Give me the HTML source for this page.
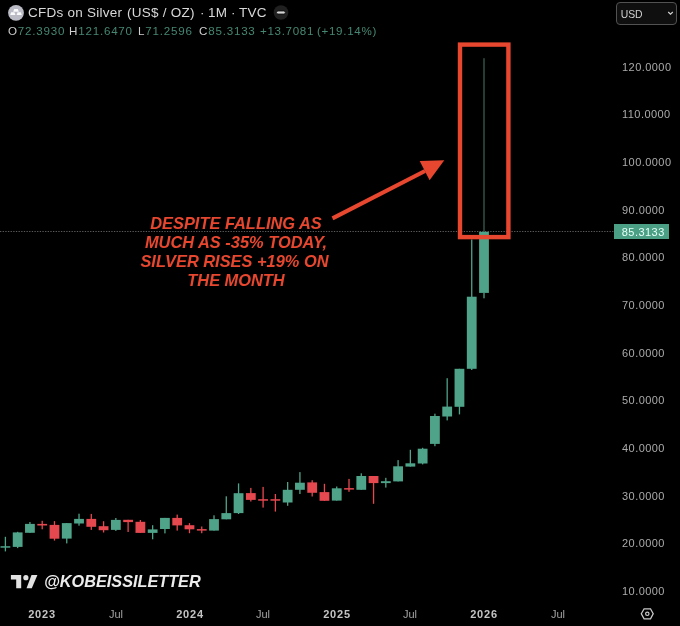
<!DOCTYPE html>
<html><head><meta charset="utf-8">
<style>
html,body{margin:0;padding:0;background:#000;}
.abs,.yl,.xl{will-change:transform;}
body{width:680px;height:626px;position:relative;overflow:hidden;font-family:"Liberation Sans",sans-serif;}
.abs{position:absolute;white-space:nowrap;}
.title{top:4.6px;font-size:13.5px;line-height:16px;color:#d8d8d8;letter-spacing:0.25px;}
.ohlc{top:24px;font-size:11.6px;line-height:14px;color:#468773;letter-spacing:0.79px;}
.ohlc b{font-weight:400;color:#cfcfcf;}
.yl{position:absolute;left:621.6px;font-size:11px;line-height:13px;color:#ababab;letter-spacing:0.45px;}
.xl{position:absolute;top:607px;font-size:11px;line-height:14px;color:#a2a2a2;transform:translateX(-50%);}
.xl.y{font-weight:700;color:#c4c4c4;letter-spacing:0.8px;}
.usd{left:616px;top:2px;width:61px;height:22.5px;border:1px solid #525252;border-radius:4px;background:#0f0f0f;box-sizing:border-box;}
.usd span{position:absolute;left:3.7px;top:5.7px;font-size:10.4px;line-height:12px;color:#d0d0d0;}
.ann{left:136px;top:214px;width:200px;text-align:center;font-size:16.4px;line-height:19.1px;font-weight:700;font-style:italic;color:#e8472f;}
.wm{left:44px;top:572.3px;font-size:16.25px;line-height:18px;font-weight:700;font-style:italic;color:#ececec;}
.pl{left:614px;top:224px;width:55px;height:15px;background:#4a9f85;}
.pl span{position:absolute;left:7.8px;top:2px;font-size:11px;line-height:13px;color:#e6fff6;letter-spacing:0.45px;}
</style></head><body>
<svg class="abs" style="left:0;top:0" width="680" height="626" viewBox="0 0 680 626">
<line x1="0" y1="231.5" x2="614" y2="231.5" stroke="#5c5c5c" stroke-width="1" stroke-dasharray="1.3 1.35"/>
<rect x="4.74" y="536.8" width="1.3" height="14.60" fill="#4ea389"/>
<rect x="0.49" y="546.2" width="9.8" height="1.50" fill="#4ea389"/>
<rect x="17.01" y="531.8" width="1.3" height="16.30" fill="#4ea389"/>
<rect x="12.76" y="532.4" width="9.8" height="14.50" fill="#4ea389"/>
<rect x="29.28" y="522" width="1.3" height="10.80" fill="#4ea389"/>
<rect x="25.03" y="523.9" width="9.8" height="8.90" fill="#4ea389"/>
<rect x="41.56" y="520.8" width="1.3" height="8.50" fill="#e5484f"/>
<rect x="37.31" y="523.9" width="9.8" height="1.60" fill="#e5484f"/>
<rect x="53.83" y="521.1" width="1.3" height="19.50" fill="#e5484f"/>
<rect x="49.58" y="524.9" width="9.8" height="13.80" fill="#e5484f"/>
<rect x="66.10" y="523.1" width="1.3" height="20.30" fill="#4ea389"/>
<rect x="61.85" y="523.1" width="9.8" height="15.50" fill="#4ea389"/>
<rect x="78.37" y="513.7" width="1.3" height="12.00" fill="#4ea389"/>
<rect x="74.12" y="518.9" width="9.8" height="4.60" fill="#4ea389"/>
<rect x="90.64" y="513.9" width="1.3" height="16.00" fill="#e5484f"/>
<rect x="86.39" y="518.9" width="9.8" height="7.90" fill="#e5484f"/>
<rect x="102.92" y="521.2" width="1.3" height="11.30" fill="#e5484f"/>
<rect x="98.67" y="526.2" width="9.8" height="4.00" fill="#e5484f"/>
<rect x="115.19" y="518" width="1.3" height="12.90" fill="#4ea389"/>
<rect x="110.94" y="519.9" width="9.8" height="10.00" fill="#4ea389"/>
<rect x="127.46" y="519.8" width="1.3" height="12.20" fill="#e5484f"/>
<rect x="123.21" y="519.8" width="9.8" height="2.30" fill="#e5484f"/>
<rect x="139.73" y="520" width="1.3" height="12.90" fill="#e5484f"/>
<rect x="135.48" y="521.8" width="9.8" height="11.10" fill="#e5484f"/>
<rect x="152.00" y="525.2" width="1.3" height="14.10" fill="#4ea389"/>
<rect x="147.75" y="529.4" width="9.8" height="3.50" fill="#4ea389"/>
<rect x="164.28" y="517.9" width="1.3" height="15.50" fill="#4ea389"/>
<rect x="160.03" y="517.9" width="9.8" height="11.10" fill="#4ea389"/>
<rect x="176.55" y="514.6" width="1.3" height="16.00" fill="#e5484f"/>
<rect x="172.30" y="517.9" width="9.8" height="7.50" fill="#e5484f"/>
<rect x="188.82" y="523.1" width="1.3" height="10.10" fill="#e5484f"/>
<rect x="184.57" y="525.2" width="9.8" height="4.10" fill="#e5484f"/>
<rect x="201.09" y="526.5" width="1.3" height="6.70" fill="#e5484f"/>
<rect x="196.84" y="529.1" width="9.8" height="1.50" fill="#e5484f"/>
<rect x="213.36" y="515.3" width="1.3" height="15.30" fill="#4ea389"/>
<rect x="209.11" y="519.1" width="9.8" height="11.50" fill="#4ea389"/>
<rect x="225.64" y="496.3" width="1.3" height="23.00" fill="#4ea389"/>
<rect x="221.39" y="513.1" width="9.8" height="6.20" fill="#4ea389"/>
<rect x="237.91" y="483.4" width="1.3" height="30.60" fill="#4ea389"/>
<rect x="233.66" y="493.2" width="9.8" height="19.90" fill="#4ea389"/>
<rect x="250.18" y="487.9" width="1.3" height="13.60" fill="#e5484f"/>
<rect x="245.93" y="493.1" width="9.8" height="6.80" fill="#e5484f"/>
<rect x="262.45" y="486.9" width="1.3" height="20.70" fill="#e5484f"/>
<rect x="258.20" y="499.2" width="9.8" height="1.50" fill="#e5484f"/>
<rect x="274.72" y="494" width="1.3" height="17.60" fill="#e5484f"/>
<rect x="270.47" y="499.2" width="9.8" height="1.50" fill="#e5484f"/>
<rect x="287.00" y="482" width="1.3" height="23.80" fill="#4ea389"/>
<rect x="282.75" y="489.8" width="9.8" height="12.70" fill="#4ea389"/>
<rect x="299.27" y="472.1" width="1.3" height="21.90" fill="#4ea389"/>
<rect x="295.02" y="482.7" width="9.8" height="7.10" fill="#4ea389"/>
<rect x="311.54" y="480.2" width="1.3" height="16.30" fill="#e5484f"/>
<rect x="307.29" y="482.4" width="9.8" height="10.40" fill="#e5484f"/>
<rect x="323.81" y="483.8" width="1.3" height="17.00" fill="#e5484f"/>
<rect x="319.56" y="492.1" width="9.8" height="8.70" fill="#e5484f"/>
<rect x="336.08" y="486.5" width="1.3" height="14.10" fill="#4ea389"/>
<rect x="331.83" y="488.3" width="9.8" height="12.30" fill="#4ea389"/>
<rect x="348.36" y="478.9" width="1.3" height="12.90" fill="#e5484f"/>
<rect x="344.11" y="488.1" width="9.8" height="1.50" fill="#e5484f"/>
<rect x="360.63" y="473.3" width="1.3" height="16.50" fill="#4ea389"/>
<rect x="356.38" y="476" width="9.8" height="13.80" fill="#4ea389"/>
<rect x="372.90" y="476" width="1.3" height="27.80" fill="#e5484f"/>
<rect x="368.65" y="476" width="9.8" height="7.10" fill="#e5484f"/>
<rect x="385.17" y="477.8" width="1.3" height="9.80" fill="#4ea389"/>
<rect x="380.92" y="481.2" width="9.8" height="1.90" fill="#4ea389"/>
<rect x="397.44" y="460.1" width="1.3" height="21.30" fill="#4ea389"/>
<rect x="393.19" y="466.3" width="9.8" height="15.10" fill="#4ea389"/>
<rect x="409.72" y="449.8" width="1.3" height="16.80" fill="#4ea389"/>
<rect x="405.47" y="463.3" width="9.8" height="3.30" fill="#4ea389"/>
<rect x="421.99" y="447.8" width="1.3" height="16.60" fill="#4ea389"/>
<rect x="417.74" y="448.7" width="9.8" height="14.80" fill="#4ea389"/>
<rect x="434.26" y="413.7" width="1.3" height="32.50" fill="#4ea389"/>
<rect x="430.01" y="416" width="9.8" height="27.90" fill="#4ea389"/>
<rect x="446.53" y="378.2" width="1.3" height="42.20" fill="#4ea389"/>
<rect x="442.28" y="406.6" width="9.8" height="9.90" fill="#4ea389"/>
<rect x="458.80" y="368.8" width="1.3" height="45.60" fill="#4ea389"/>
<rect x="454.55" y="368.8" width="9.8" height="38.00" fill="#4ea389"/>
<rect x="471.08" y="239.5" width="1.3" height="130.50" fill="#4ea389"/>
<rect x="466.83" y="296.7" width="9.8" height="72.10" fill="#4ea389"/>
<rect x="483.35" y="58.2" width="1.3" height="173.60" fill="#3a5d54"/>
<rect x="483.35" y="292.9" width="1.3" height="5.40" fill="#4ea389"/>
<rect x="479.10" y="231.8" width="9.8" height="61.10" fill="#4ea389"/>
<!-- red rectangle -->
<rect x="460" y="44.6" width="48.4" height="192.5" fill="none" stroke="#e8472f" stroke-width="4.4"/>
<!-- arrow -->
<line x1="332.5" y1="218.3" x2="425" y2="171" stroke="#e8472f" stroke-width="4.2"/>
<polygon points="419.7,161 444.3,160.2 429.6,180.2" fill="#e8472f"/>
<!-- header icons -->
<circle cx="16" cy="12.85" r="7.9" fill="#bbbbc5"/>
<path d="M13.2 11.7L14.2 9.0H17.8L18.8 11.7Z M10.2 14.9L11.2 12.3H14.4L15.4 14.9Z M16.6 14.9L17.6 12.3H20.8L21.8 14.9Z" fill="#fafafc"/>
<circle cx="281" cy="12.5" r="7.3" fill="#202020"/>
<rect x="276.5" y="11" width="8.8" height="3" rx="1.5" fill="#d6d6d6" stroke="#0c0c0c" stroke-width="0.8"/>
<!-- TV logo -->
<path d="M10.9 575.1H21.2V588.3H16.2V579.5H10.9Z" fill="#e2e2e2"/>
<circle cx="25.9" cy="577.7" r="2.6" fill="#e2e2e2"/>
<path d="M31.5 575.1H37.4L31.8 588.3H26.5Z" fill="#e2e2e2"/>
<!-- settings hexagon -->
<path d="M641.3 613.8L644.1 608.8H650.5L653.2 613.8L650.5 618.8H644.1Z" fill="none" stroke="#c8c8c8" stroke-width="1.3"/>
<circle cx="647.3" cy="613.8" r="1.7" fill="none" stroke="#c8c8c8" stroke-width="1.2"/>
</svg>
<div class="abs title" style="left:27.6px">CFDs on Silver</div><div class="abs title" style="left:127.4px">(US$ / OZ)</div><div class="abs title" style="left:199.6px">·</div><div class="abs title" style="left:208px">1M</div><div class="abs title" style="left:230.6px">·</div><div class="abs title" style="left:239.2px">TVC</div>
<div class="abs ohlc" style="left:7.7px"><b>O</b>72.3930</div><div class="abs ohlc" style="left:69.4px"><b>H</b>121.6470</div><div class="abs ohlc" style="left:138.3px"><b>L</b>71.2596</div><div class="abs ohlc" style="left:198.6px"><b>C</b>85.3133</div><div class="abs ohlc" style="left:260.1px;letter-spacing:0.68px">+13.7081</div><div class="abs ohlc" style="left:316.6px;letter-spacing:0.68px">(+19.14%)</div>
<div class="yl" style="top:60.7px">120.0000</div>
<div class="yl" style="top:108.3px">110.0000</div>
<div class="yl" style="top:156.0px">100.0000</div>
<div class="yl" style="top:203.6px">90.0000</div>
<div class="yl" style="top:251.3px">80.0000</div>
<div class="yl" style="top:298.9px">70.0000</div>
<div class="yl" style="top:346.5px">60.0000</div>
<div class="yl" style="top:394.2px">50.0000</div>
<div class="yl" style="top:441.8px">40.0000</div>
<div class="yl" style="top:489.5px">30.0000</div>
<div class="yl" style="top:537.1px">20.0000</div>
<div class="yl" style="top:584.7px">10.0000</div>
<div class="abs pl"><span>85.3133</span></div>
<div class="abs usd"><span>USD</span>
<svg style="position:absolute;left:50px;top:8.4px" width="7" height="5" viewBox="0 0 7 5"><path d="M1.2 1L3.5 3.2L5.8 1" fill="none" stroke="#d0d0d0" stroke-width="1.2"/></svg></div>
<div class="abs ann">DESPITE FALLING AS<br>MUCH AS -35% TODAY,<br><span style="position:relative;left:-1.5px">SILVER RISES +19% ON</span><br>THE MONTH</div>
<div class="abs wm">@KOBEISSILETTER</div>
<div class="xl y" style="left:42.4px">2023</div>
<div class="xl" style="left:116px">Jul</div>
<div class="xl y" style="left:189.6px">2024</div>
<div class="xl" style="left:263px">Jul</div>
<div class="xl y" style="left:336.7px">2025</div>
<div class="xl" style="left:410.3px">Jul</div>
<div class="xl y" style="left:484.4px">2026</div>
<div class="xl" style="left:557.9px">Jul</div>
</body></html>
